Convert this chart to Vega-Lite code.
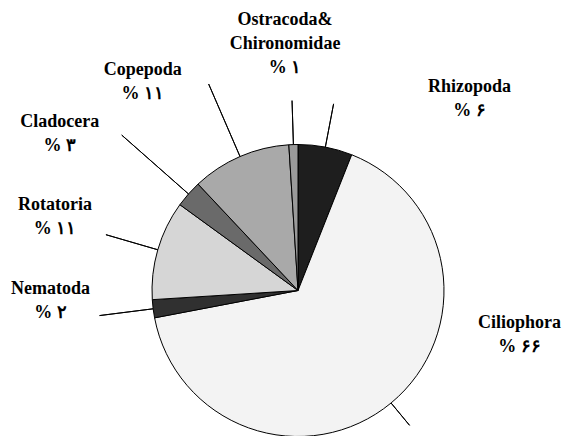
{
  "$schema": "https://vega.github.io/schema/vega-lite/v6.json",
  "width": 536,
  "height": 291,
  "autosize": "none",
  "padding": {"left": 30, "top": 145, "right": 0, "bottom": 0},
  "background": "white",
  "config": {"view": {"stroke": null}},
  "datasets": {
    "slices": [
      {"name": "Rhizopoda", "value": 6, "order": 1, "label": "Rhizopoda\n% ۶"},
      {"name": "Ciliophora", "value": 66, "order": 2, "label": "Ciliophora\n% ۶۶"},
      {"name": "Nematoda", "value": 2, "order": 3, "label": "Nematoda\n% ۲"},
      {"name": "Rotatoria", "value": 11, "order": 4, "label": "Rotatoria\n% ۱۱"},
      {"name": "Cladocera", "value": 3, "order": 5, "label": "Cladocera\n% ۳"},
      {"name": "Copepoda", "value": 11, "order": 6, "label": "Copepoda\n% ۱۱"},
      {"name": "Ostracoda& Chironomidae", "value": 1, "order": 7, "label": "Ostracoda&\nChironomidae\n% ۱"}
    ]
  },
  "data": {"name": "slices"},
  "transform": [
    {"stack": "value", "groupby": [], "sort": [{"field": "order", "order": "ascending"}], "as": ["v0", "v1"]}
  ],
  "layer": [
    {
      "mark": {"type": "arc", "radius": 146, "stroke": "black", "strokeWidth": 1},
      "encoding": {
        "theta": {"field": "v0", "type": "quantitative", "scale": {"domain": [0, 100]}},
        "theta2": {"field": "v1"},
        "color": {
          "field": "name", "type": "nominal", "legend": null,
          "scale": {
            "domain": ["Rhizopoda", "Ciliophora", "Nematoda", "Rotatoria", "Cladocera", "Copepoda", "Ostracoda& Chironomidae"],
            "range": ["#1e1e1e", "#f3f3f3", "#303030", "#d6d6d6", "#6a6a6a", "#a9a9a9", "#9a9a9a"]
          }
        }
      }
    },
    {
      "transform": [
        {"fold": ["v0", "v1"], "as": ["edge", "pos"]},
        {"aggregate": [{"op": "mean", "field": "pos", "as": "mid"}], "groupby": ["name", "label"]}
      ],
      "layer": [
        {
          "transform": [{"filter": "datum.name === 'Rhizopoda'"}],
          "layer": [
            {"mark": {"type": "arc", "radius": 190, "radius2": 146, "stroke": "black", "strokeWidth": 1, "fillOpacity": 0},
             "encoding": {"theta": {"field": "mid", "type": "quantitative", "scale": {"domain": [0, 100]}}, "theta2": {"field": "mid"}}},
            {"mark": {"type": "text", "radius": 190, "dx": 136, "dy": -26, "align": "center", "baseline": "top", "lineBreak": "\n", "lineHeight": 24, "font": "Liberation Serif", "fontSize": 18, "fontWeight": "bold", "color": "black"},
             "encoding": {"theta": {"field": "mid", "type": "quantitative", "scale": {"domain": [0, 100]}}, "text": {"field": "label"}}}
          ]
        },
        {
          "transform": [{"filter": "datum.name === 'Ciliophora'"}],
          "layer": [
            {"mark": {"type": "arc", "radius": 175, "radius2": 146, "stroke": "black", "strokeWidth": 1, "fillOpacity": 0},
             "encoding": {"theta": {"field": "mid", "type": "quantitative", "scale": {"domain": [0, 100]}}, "theta2": {"field": "mid"}}},
            {"mark": {"type": "text", "radius": 175, "dx": 110, "dy": -111, "align": "center", "baseline": "top", "lineBreak": "\n", "lineHeight": 24, "font": "Liberation Serif", "fontSize": 18, "fontWeight": "bold", "color": "black"},
             "encoding": {"theta": {"field": "mid", "type": "quantitative", "scale": {"domain": [0, 100]}}, "text": {"field": "label"}}}
          ]
        },
        {
          "transform": [{"filter": "datum.name === 'Nematoda'"}],
          "layer": [
            {"mark": {"type": "arc", "radius": 200, "radius2": 146, "stroke": "black", "strokeWidth": 1, "fillOpacity": 0},
             "encoding": {"theta": {"field": "mid", "type": "quantitative", "scale": {"domain": [0, 100]}}, "theta2": {"field": "mid"}}},
            {"mark": {"type": "text", "radius": 200, "dx": -49, "dy": -36, "align": "center", "baseline": "top", "lineBreak": "\n", "lineHeight": 24, "font": "Liberation Serif", "fontSize": 18, "fontWeight": "bold", "color": "black"},
             "encoding": {"theta": {"field": "mid", "type": "quantitative", "scale": {"domain": [0, 100]}}, "text": {"field": "label"}}}
          ]
        },
        {
          "transform": [{"filter": "datum.name === 'Rotatoria'"}],
          "layer": [
            {"mark": {"type": "arc", "radius": 200, "radius2": 146, "stroke": "black", "strokeWidth": 1, "fillOpacity": 0},
             "encoding": {"theta": {"field": "mid", "type": "quantitative", "scale": {"domain": [0, 100]}}, "theta2": {"field": "mid"}}},
            {"mark": {"type": "text", "radius": 200, "dx": -51, "dy": -39, "align": "center", "baseline": "top", "lineBreak": "\n", "lineHeight": 24, "font": "Liberation Serif", "fontSize": 18, "fontWeight": "bold", "color": "black"},
             "encoding": {"theta": {"field": "mid", "type": "quantitative", "scale": {"domain": [0, 100]}}, "text": {"field": "label"}}}
          ]
        },
        {
          "transform": [{"filter": "datum.name === 'Cladocera'"}],
          "layer": [
            {"mark": {"type": "arc", "radius": 235, "radius2": 146, "stroke": "black", "strokeWidth": 1, "fillOpacity": 0},
             "encoding": {"theta": {"field": "mid", "type": "quantitative", "scale": {"domain": [0, 100]}}, "theta2": {"field": "mid"}}},
            {"mark": {"type": "text", "radius": 235, "dx": -62, "dy": -22, "align": "center", "baseline": "top", "lineBreak": "\n", "lineHeight": 24, "font": "Liberation Serif", "fontSize": 18, "fontWeight": "bold", "color": "black"},
             "encoding": {"theta": {"field": "mid", "type": "quantitative", "scale": {"domain": [0, 100]}}, "text": {"field": "label"}}}
          ]
        },
        {
          "transform": [{"filter": "datum.name === 'Copepoda'"}],
          "layer": [
            {"mark": {"type": "arc", "radius": 225, "radius2": 146, "stroke": "black", "strokeWidth": 1, "fillOpacity": 0},
             "encoding": {"theta": {"field": "mid", "type": "quantitative", "scale": {"domain": [0, 100]}}, "theta2": {"field": "mid"}}},
            {"mark": {"type": "text", "radius": 225, "dx": -66, "dy": -23, "align": "center", "baseline": "top", "lineBreak": "\n", "lineHeight": 24, "font": "Liberation Serif", "fontSize": 18, "fontWeight": "bold", "color": "black"},
             "encoding": {"theta": {"field": "mid", "type": "quantitative", "scale": {"domain": [0, 100]}}, "text": {"field": "label"}}}
          ]
        },
        {
          "transform": [{"filter": "datum.name === 'Ostracoda& Chironomidae'"}],
          "layer": [
            {"mark": {"type": "arc", "radius": 190, "radius2": 146, "stroke": "black", "strokeWidth": 1, "fillOpacity": 0},
             "encoding": {"theta": {"field": "mid", "type": "quantitative", "scale": {"domain": [0, 100]}}, "theta2": {"field": "mid"}}},
            {"mark": {"type": "text", "radius": 190, "dx": -7, "dy": -90, "align": "center", "baseline": "top", "lineBreak": "\n", "lineHeight": 24, "font": "Liberation Serif", "fontSize": 18, "fontWeight": "bold", "color": "black"},
             "encoding": {"theta": {"field": "mid", "type": "quantitative", "scale": {"domain": [0, 100]}}, "text": {"field": "label"}}}
          ]
        }
      ]
    }
  ]
}
